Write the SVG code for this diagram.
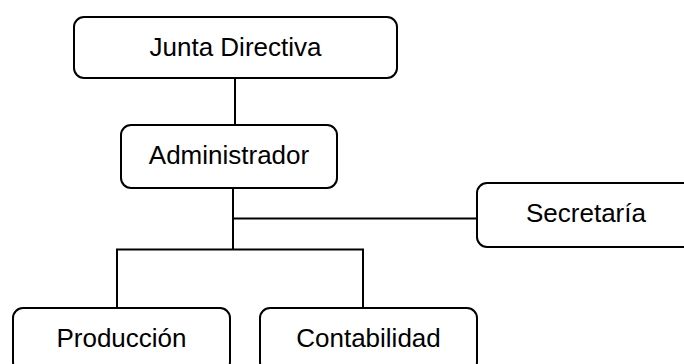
<svg xmlns="http://www.w3.org/2000/svg" width="684" height="364" viewBox="0 0 684 364">
<style>
.box{fill:#fff;stroke:#000;stroke-width:2}
.lbl{font-family:"Liberation Sans",Arial,sans-serif;font-size:26px;fill:#000;text-anchor:middle}
.conn{stroke:#000;stroke-width:2;fill:none}
</style>
<rect width="684" height="364" fill="#fff"/>
<g id="connectors">
<line class="conn" x1="235" y1="78" x2="235" y2="125"/>
<line class="conn" x1="233" y1="188" x2="233" y2="249.5"/>
<line class="conn" x1="233" y1="218.5" x2="477" y2="218.5"/>
<line class="conn" x1="116" y1="249.5" x2="364" y2="249.5"/>
<line class="conn" x1="117" y1="249.5" x2="117" y2="308"/>
<line class="conn" x1="363" y1="249.5" x2="363" y2="308"/>
</g>
<g id="junta">
<rect class="box" x="74" y="17" width="323" height="61" rx="10"/>
<text class="lbl" x="235.5" y="56">Junta Directiva</text>
</g>
<g id="administrador">
<rect class="box" x="121" y="125" width="216" height="63" rx="10"/>
<text class="lbl" x="229" y="164">Administrador</text>
</g>
<g id="secretaria">
<rect class="box" x="477" y="183" width="220" height="64" rx="10"/>
<text class="lbl" x="586" y="222">Secretaría</text>
</g>
<g id="produccion">
<rect class="box" x="13" y="308" width="217" height="64" rx="10"/>
<text class="lbl" x="121.5" y="347">Producción</text>
</g>
<g id="contabilidad">
<rect class="box" x="260" y="308" width="217" height="64" rx="10"/>
<text class="lbl" x="368.5" y="347">Contabilidad</text>
</g>
</svg>
